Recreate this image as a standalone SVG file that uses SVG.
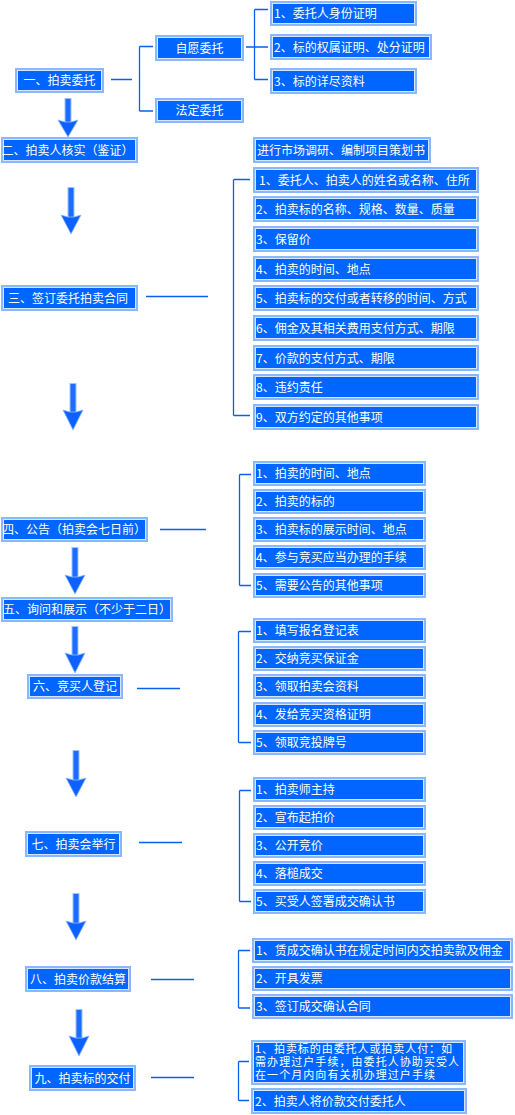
<svg xmlns="http://www.w3.org/2000/svg" width="515" height="1115" viewBox="0 0 515 1115">
<defs>
<style>
.b{fill:#0066ff;stroke:#8ab8ff;stroke-width:2}
.bi{fill:none;stroke:#d6e6ff;stroke-width:1}
text{font-family:"Noto Sans CJK SC","Noto Sans",sans-serif;font-size:12px;fill:#ffffff}
.c{text-anchor:middle}
.s{font-family:"Liberation Sans","Noto Sans CJK SC",sans-serif;font-size:11px}
.ln{stroke:#0a5ff0;stroke-width:1.3;fill:none}
.sh{fill:#1c6cff;stroke:#9cc4ff;stroke-width:1}
.hd{fill:#0d62ff;stroke:#8fbaff;stroke-width:0.8}
</style>
</defs>
<rect width="515" height="1115" fill="#ffffff"/>

<g id="connectors">
<path class="ln" d="M111 79.5H132M139.5 46.5V111M139.5 46.5H153M139.5 111H153"/>
<path class="ln" d="M246 47H268M254.5 9.5V79.5M254.5 9.5H268M254.5 79.5H268"/>
<path class="ln" d="M146 296.5H208M233.5 179.5V415.5M233.5 179.5H250M233.5 415.5H250"/>
<path class="ln" d="M160 529.5H206M239.5 474.5V585.5M239.5 474.5H251M239.5 585.5H251"/>
<path class="ln" d="M137 688.5H180M238.5 631.5V742.5M238.5 631.5H251M238.5 742.5H251"/>
<path class="ln" d="M139 842.5H182M239.5 790.5V901.5M239.5 790.5H251M239.5 901.5H251"/>
<path class="ln" d="M151 979.5H194M238.5 950.5V1008M238.5 950.5H250M238.5 1008H250"/>
<path class="ln" d="M151 1077.5H194M238.5 1061.5V1100.5M238.5 1061.5H249M238.5 1100.5H249"/>
<g id="arrows">
<rect class="sh" x="65" y="98.5" width="6" height="25"/><path class="hd" d="M65 122L58 120L68 137L78 120L71 122Z"/>
<rect class="sh" x="68" y="187.5" width="6" height="31"/><path class="hd" d="M68 217L61 215L71 234L81 215L74 217Z"/>
<rect class="sh" x="70" y="383.5" width="6" height="30"/><path class="hd" d="M70 412L63 410L73 430L83 410L76 412Z"/>
<rect class="sh" x="72" y="547.5" width="6" height="31"/><path class="hd" d="M72 577L65 575L75 594L85 575L78 577Z"/>
<rect class="sh" x="72" y="626.5" width="6" height="30"/><path class="hd" d="M72 655L65 653L75 673L85 653L78 655Z"/>
<rect class="sh" x="73" y="750.5" width="6" height="31"/><path class="hd" d="M73 780L66 778L76 797L86 778L79 780Z"/>
<rect class="sh" x="73" y="893.5" width="6" height="31"/><path class="hd" d="M73 923L66 921L76 940L86 921L79 923Z"/>
<rect class="sh" x="76" y="1009.5" width="6" height="30"/><path class="hd" d="M76 1038L69 1036L79 1056L89 1036L82 1038Z"/>
</g>
</g>

<g id="n1"><rect class="b" x="16" y="69" width="87" height="23"/><rect class="bi" x="17.5" y="70.5" width="84" height="20"/><text class="c" x="59.5" y="85">一、拍卖委托</text></g>
<g id="n1a"><rect class="b" x="156" y="36" width="87" height="24"/><rect class="bi" x="157.5" y="37.5" width="84" height="21"/><text class="c" x="199.5" y="52.5">自愿委托</text></g>
<g id="n1b"><rect class="b" x="156" y="99" width="87" height="23"/><rect class="bi" x="157.5" y="100.5" width="84" height="20"/><text class="c" x="199.5" y="115">法定委托</text></g>
<g id="n1a1"><rect class="b" x="271" y="2" width="145" height="23"/><rect class="bi" x="272.5" y="3.5" width="142" height="20"/><text x="274" y="18">1、委托人身份证明</text></g>
<g id="n1a2"><rect class="b" x="271" y="35" width="160" height="24"/><rect class="bi" x="272.5" y="36.5" width="157" height="21"/><text x="274" y="51.5">2、标的权属证明、处分证明</text></g>
<g id="n1a3"><rect class="b" x="271" y="69" width="145" height="24"/><rect class="bi" x="272.5" y="70.5" width="142" height="21"/><text x="274" y="85.5">3、标的详尽资料</text></g>

<g id="n2"><rect class="b" x="2" y="138" width="135" height="24"/><rect class="bi" x="3.5" y="139.5" width="132" height="21"/><text class="c" x="67.5" y="154.5">二、拍卖人核实（鉴证）</text></g>
<g id="n2a"><rect class="b" x="254" y="138" width="176" height="24"/><rect class="bi" x="255.5" y="139.5" width="173" height="21"/><text x="257" y="154.5">进行市场调研、编制项目策划书</text></g>

<g id="n3"><rect class="b" x="2" y="286" width="135" height="24"/><rect class="bi" x="3.5" y="287.5" width="132" height="21"/><text class="c" x="68" y="302.5">三、签订委托拍卖合同</text></g>
<g id="n3i1"><rect class="b" x="254" y="168" width="224" height="24"/><rect class="bi" x="255.5" y="169.5" width="221" height="21"/><text x="259" y="184.5">1、委托人、拍卖人的姓名或名称、住所</text></g>
<g id="n3i2"><rect class="b" x="254" y="197" width="224" height="24"/><rect class="bi" x="255.5" y="198.5" width="221" height="21"/><text x="256" y="213.5">2、拍卖标的名称、规格、数量、质量</text></g>
<g id="n3i3"><rect class="b" x="254" y="227" width="224" height="24"/><rect class="bi" x="255.5" y="228.5" width="221" height="21"/><text x="256" y="243.5">3、保留价</text></g>
<g id="n3i4"><rect class="b" x="254" y="257" width="224" height="24"/><rect class="bi" x="255.5" y="258.5" width="221" height="21"/><text x="256" y="273.5">4、拍卖的时间、地点</text></g>
<g id="n3i5"><rect class="b" x="254" y="286" width="224" height="24"/><rect class="bi" x="255.5" y="287.5" width="221" height="21"/><text x="256" y="302.5">5、拍卖标的交付或者转移的时间、方式</text></g>
<g id="n3i6"><rect class="b" x="254" y="316" width="224" height="24"/><rect class="bi" x="255.5" y="317.5" width="221" height="21"/><text x="256" y="332.5">6、佣金及其相关费用支付方式、期限</text></g>
<g id="n3i7"><rect class="b" x="254" y="346" width="224" height="24"/><rect class="bi" x="255.5" y="347.5" width="221" height="21"/><text x="256" y="362.5">7、价款的支付方式、期限</text></g>
<g id="n3i8"><rect class="b" x="254" y="375" width="224" height="24"/><rect class="bi" x="255.5" y="376.5" width="221" height="21"/><text x="256" y="391.5">8、违约责任</text></g>
<g id="n3i9"><rect class="b" x="254" y="405" width="224" height="24"/><rect class="bi" x="255.5" y="406.5" width="221" height="21"/><text x="256" y="421.5">9、双方约定的其他事项</text></g>

<g id="n4"><rect class="b" x="2" y="518" width="145" height="23"/><rect class="bi" x="3.5" y="519.5" width="142" height="20"/><text class="c" x="74" y="534">四、公告（拍卖会七日前）</text></g>
<g id="n4i1"><rect class="b" x="254" y="462" width="171" height="23"/><rect class="bi" x="255.5" y="463.5" width="168" height="20"/><text x="256" y="478">1、拍卖的时间、地点</text></g>
<g id="n4i2"><rect class="b" x="254" y="490" width="171" height="23"/><rect class="bi" x="255.5" y="491.5" width="168" height="20"/><text x="256" y="506">2、拍卖的标的</text></g>
<g id="n4i3"><rect class="b" x="254" y="518" width="171" height="23"/><rect class="bi" x="255.5" y="519.5" width="168" height="20"/><text x="256" y="534">3、拍卖标的展示时间、地点</text></g>
<g id="n4i4"><rect class="b" x="254" y="546" width="171" height="23"/><rect class="bi" x="255.5" y="547.5" width="168" height="20"/><text x="256" y="562">4、参与竞买应当办理的手续</text></g>
<g id="n4i5"><rect class="b" x="254" y="574" width="171" height="23"/><rect class="bi" x="255.5" y="575.5" width="168" height="20"/><text x="256" y="590">5、需要公告的其他事项</text></g>

<g id="n5"><rect class="b" x="2" y="598" width="170" height="23"/><rect class="bi" x="3.5" y="599.5" width="167" height="20"/><text class="c" x="87" y="614">五、询问和展示（不少于二日）</text></g>

<g id="n6"><rect class="b" x="28" y="675" width="94" height="23"/><rect class="bi" x="29.5" y="676.5" width="91" height="20"/><text class="c" x="75" y="691">六、竞买人登记</text></g>
<g id="n6i1"><rect class="b" x="254" y="619" width="171" height="23"/><rect class="bi" x="255.5" y="620.5" width="168" height="20"/><text x="256" y="635">1、填写报名登记表</text></g>
<g id="n6i2"><rect class="b" x="254" y="647" width="171" height="23"/><rect class="bi" x="255.5" y="648.5" width="168" height="20"/><text x="256" y="663">2、交纳竞买保证金</text></g>
<g id="n6i3"><rect class="b" x="254" y="675" width="171" height="23"/><rect class="bi" x="255.5" y="676.5" width="168" height="20"/><text x="256" y="691">3、领取拍卖会资料</text></g>
<g id="n6i4"><rect class="b" x="254" y="703" width="171" height="23"/><rect class="bi" x="255.5" y="704.5" width="168" height="20"/><text x="256" y="719">4、发给竞买资格证明</text></g>
<g id="n6i5"><rect class="b" x="254" y="731" width="171" height="23"/><rect class="bi" x="255.5" y="732.5" width="168" height="20"/><text x="256" y="747">5、领取竞投牌号</text></g>

<g id="n7"><rect class="b" x="26" y="832" width="95" height="24"/><rect class="bi" x="27.5" y="833.5" width="92" height="21"/><text class="c" x="73.5" y="848.5">七、拍卖会举行</text></g>
<g id="n7i1"><rect class="b" x="254" y="778" width="171" height="23"/><rect class="bi" x="255.5" y="779.5" width="168" height="20"/><text x="256" y="794">1、拍卖师主持</text></g>
<g id="n7i2"><rect class="b" x="254" y="806" width="171" height="23"/><rect class="bi" x="255.5" y="807.5" width="168" height="20"/><text x="256" y="822">2、宣布起拍价</text></g>
<g id="n7i3"><rect class="b" x="254" y="834" width="171" height="23"/><rect class="bi" x="255.5" y="835.5" width="168" height="20"/><text x="256" y="850">3、公开竞价</text></g>
<g id="n7i4"><rect class="b" x="254" y="862" width="171" height="23"/><rect class="bi" x="255.5" y="863.5" width="168" height="20"/><text x="256" y="878">4、落槌成交</text></g>
<g id="n7i5"><rect class="b" x="254" y="890" width="171" height="23"/><rect class="bi" x="255.5" y="891.5" width="168" height="20"/><text x="256" y="906">5、买受人签署成交确认书</text></g>

<g id="n8"><rect class="b" x="26" y="967" width="104" height="24"/><rect class="bi" x="27.5" y="968.5" width="101" height="21"/><text class="c" x="78" y="983.5">八、拍卖价款结算</text></g>
<g id="n8i1"><rect class="b" x="253" y="939" width="259" height="23"/><rect class="bi" x="254.5" y="940.5" width="256" height="20"/><text x="256" y="955">1、赁成交确认书在规定时间内交拍卖款及佣金</text></g>
<g id="n8i2"><rect class="b" x="253" y="967" width="259" height="23"/><rect class="bi" x="254.5" y="968.5" width="256" height="20"/><text x="256" y="983">2、开具发票</text></g>
<g id="n8i3"><rect class="b" x="253" y="995" width="259" height="23"/><rect class="bi" x="254.5" y="996.5" width="256" height="20"/><text x="256" y="1011">3、签订成交确认合同</text></g>

<g id="n9"><rect class="b" x="30" y="1066" width="105" height="24"/><rect class="bi" x="31.5" y="1067.5" width="102" height="21"/><text class="c" x="82.5" y="1082.5">九、拍卖标的交付</text></g>
<g id="n9i1"><rect class="b" x="252" y="1041" width="213" height="43"/><rect class="bi" x="253.5" y="1042.5" width="210" height="40"/><text class="s" x="255" y="1053" textLength="197" lengthAdjust="spacing">1、拍卖标的由委托人或拍卖人付：如</text><text class="s" x="255" y="1066" textLength="204" lengthAdjust="spacing">需办理过户手续，由委托人协助买受人</text><text class="s" x="255" y="1079" textLength="180" lengthAdjust="spacing">在一个月内向有关机办理过户手续</text></g>
<g id="n9i2"><rect class="b" x="252" y="1089" width="214" height="24"/><rect class="bi" x="253.5" y="1090.5" width="211" height="21"/><text x="255" y="1105.5">2、拍卖人将价款交付委托人</text></g>
</svg>
